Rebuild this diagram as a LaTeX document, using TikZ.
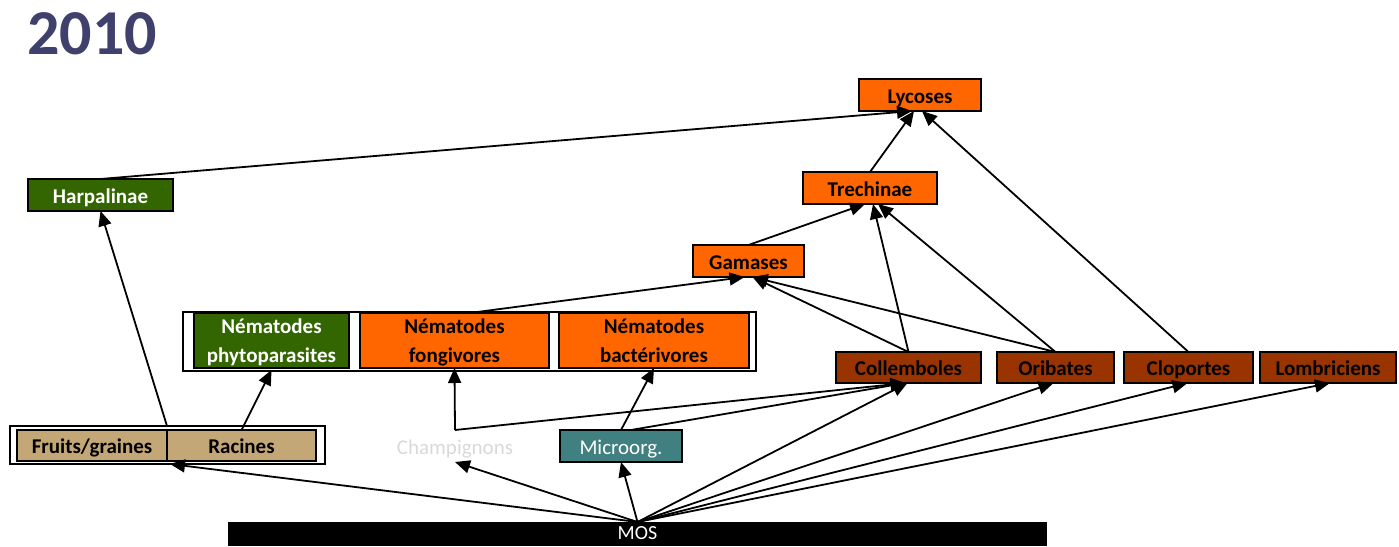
\documentclass[tikz,border=0pt]{standalone}
\usepackage{fontspec}
\setmainfont{Carlito}
\usetikzlibrary{arrows.meta}
\definecolor{orangebox}{RGB}{255,102,0}
\definecolor{greenbox}{RGB}{51,102,0}
\definecolor{brownbox}{RGB}{153,51,0}
\definecolor{tanbox}{RGB}{196,167,118}
\definecolor{tealbox}{RGB}{65,128,128}
\definecolor{titlecol}{RGB}{64,64,108}
\definecolor{champcol}{RGB}{217,217,217}
\begin{document}
\begin{tikzpicture}[x=1pt,y=-1pt,
 box/.style={draw=black, line width=1.6pt, inner sep=0pt, outer sep=0pt, minimum height=32pt, font=\fontsize{21}{25}\selectfont\bfseries, align=center},
 one/.style={text height=17pt, text depth=1pt},
 obox/.style={box, fill=orangebox, text=black},
 gbox/.style={box, fill=greenbox, text=white},
 bbox/.style={box, one, fill=brownbox, text=black, minimum height=31pt},
 tbox/.style={box, one, fill=tanbox, text=black, minimum height=31pt},
 nbox/.style={minimum height=55pt, font=\fontsize{21}{29}\selectfont\bfseries, text depth=0pt},
 plain/.style={minimum width=122pt, minimum height=32pt, inner sep=0pt, outer sep=0pt, one, font=\fontsize{21}{25}\selectfont},
 group/.style={draw=black, line width=1.4pt},
 arr/.style={-{Triangle[length=15pt,width=13pt]}, line width=1.8pt}]
\useasboundingbox (0,0) rectangle (1399,546);

% title
\node[anchor=base west, inner sep=0pt, font=\fontsize{64}{70}\selectfont\bfseries, text=titlecol] (title) at (27,54) {2010};

% group frames
\draw[group] (183,312) rectangle (756,371);
\draw[group] (10,426) rectangle (325,464);

% nodes
\node[obox, one, minimum width=122pt] (lyc) at (920,95) {Lycoses};
\node[obox, one, minimum width=134pt] (trech) at (870,188) {Trechinae};
\node[obox, one, minimum width=111pt] (gam) at (748.5,261) {Gamases};
\node[gbox, one, minimum width=145pt] (harp) at (100.5,195) {Harpalinae};

\node[gbox, nbox, minimum width=155pt] (phyto) at (271.5,340.5) {Nématodes\\phytoparasites};
\node[obox, nbox, minimum width=189pt] (fong) at (454.5,340.5) {Nématodes\\fongivores};
\node[obox, nbox, minimum width=190pt] (bact) at (654,340.5) {Nématodes\\bactérivores};

\node[bbox, minimum width=145pt] (coll) at (908.5,367.5) {Collemboles};
\node[bbox, minimum width=117pt] (ori) at (1055.5,367.5) {Oribates};
\node[bbox, minimum width=129pt] (clop) at (1188.5,367.5) {Cloportes};
\node[bbox, minimum width=136pt] (lomb) at (1328,367.5) {Lombriciens};

\node[tbox, minimum width=150pt] (fruits) at (92,445.5) {Fruits/graines};
\node[tbox, minimum width=149pt] (rac) at (241.5,445.5) {Racines};

\node[plain, text=champcol] (champ) at (455,446) {Champignons};
\node[plain, draw=black, line width=1.6pt, fill=tealbox, text=white] (micro) at (621,446) {Microorg.};

\node[plain, fill=black, minimum width=819pt, minimum height=24pt, text=white, font=\fontsize{20}{24}\selectfont, text height=12pt, text depth=1pt] (mos) at (637.5,534) {MOS};

% connectors
\draw[arr] (harp.north) -- ([xshift=-8pt]lyc.south);
\draw[arr] (trech.north) -- ([xshift=-6pt]lyc.south);
\draw[arr] (clop.north) -- ([xshift=2pt]lyc.south);

\draw[arr] (gam.north) -- ([xshift=-5pt]trech.south);
\draw[arr] (coll.north) -- ([xshift=3pt]trech.south);
\draw[arr] (ori.north) -- ([xshift=8pt]trech.south);

\draw[arr] ([xshift=15pt]fong.north) -- ([xshift=-4pt]gam.south);
\draw[arr] (coll.north) -- ([xshift=4pt]gam.south);
\draw[arr] (ori.north) -- ([xshift=4pt]gam.south);

\draw[arr] ([yshift=4pt]fruits.north east) -- (harp.south);
\draw[arr] (rac.north) -- ([yshift=-2pt]phyto.south);

\draw[arr] (champ.north) -- (fong.south);
\draw[arr] (champ.north) -- ([xshift=-3pt]coll.south);
\draw[arr] (micro.north) -- (bact.south);
\draw[arr] ([xshift=10pt]micro.north) -- ([xshift=-3pt]coll.south);

\draw[arr] (mos.north) -- ([shift={(3pt,-3pt)}]fruits.south east);
\draw[arr] (mos.north) -- (champ.south);
\draw[arr] (mos.north) -- (micro.south);
\draw[arr] (mos.north) -- ([xshift=-1pt]coll.south);
\draw[arr] (mos.north) -- ([xshift=-2pt]ori.south);
\draw[arr] (mos.north) -- ([xshift=-1pt]clop.south);
\draw[arr] (mos.north) -- ([xshift=2pt]lomb.south);
\end{tikzpicture}
\end{document}
